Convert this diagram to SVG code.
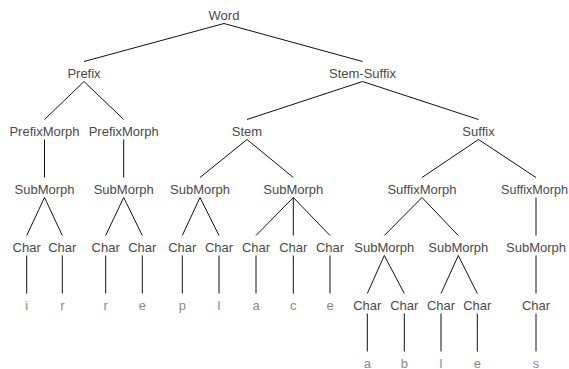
<svg xmlns="http://www.w3.org/2000/svg" width="569" height="369" viewBox="0 0 569 369">
  <style>
    text { font-family: "Liberation Sans", Arial, sans-serif; font-size: 13px; text-anchor: middle; fill: #4a4a4a; }
    text.leaf { fill: #8a8a8a; }
    #edges line { stroke: #111; stroke-width: 1; }
  </style>
  <rect width="569" height="369" fill="#fff"/>
  <g id="edges">
    <!-- Word -->
    <line x1="224" y1="23.5" x2="84" y2="61.5"/>
    <line x1="224" y1="23.5" x2="362.5" y2="61.5"/>
    <!-- Prefix -->
    <line x1="84" y1="81.5" x2="44.5" y2="119.5"/>
    <line x1="84" y1="81.5" x2="123.7" y2="119.5"/>
    <!-- Stem-Suffix -->
    <line x1="362.5" y1="81.5" x2="247" y2="119.5"/>
    <line x1="362.5" y1="81.5" x2="478.5" y2="119.5"/>
    <!-- PrefixMorphs -->
    <line x1="44.5" y1="139.5" x2="44.5" y2="177.5"/>
    <line x1="123.7" y1="139.5" x2="123.7" y2="177.5"/>
    <!-- Stem -->
    <line x1="247" y1="139.5" x2="200" y2="177.5"/>
    <line x1="247" y1="139.5" x2="293.3" y2="177.5"/>
    <!-- Suffix -->
    <line x1="478.5" y1="139.5" x2="422" y2="177.5"/>
    <line x1="478.5" y1="139.5" x2="536" y2="177.5"/>
    <!-- SubMorphs (level 3) -->
    <line x1="44.5" y1="197.5" x2="26.7" y2="235.5"/>
    <line x1="44.5" y1="197.5" x2="62.3" y2="235.5"/>
    <line x1="123.7" y1="197.5" x2="105.7" y2="235.5"/>
    <line x1="123.7" y1="197.5" x2="142.3" y2="235.5"/>
    <line x1="200" y1="197.5" x2="182.3" y2="235.5"/>
    <line x1="200" y1="197.5" x2="219" y2="235.5"/>
    <line x1="293.3" y1="197.5" x2="256" y2="235.5"/>
    <line x1="293.3" y1="197.5" x2="293.3" y2="235.5"/>
    <line x1="293.3" y1="197.5" x2="330" y2="235.5"/>
    <!-- SuffixMorphs -->
    <line x1="422" y1="197.5" x2="384.3" y2="235.5"/>
    <line x1="422" y1="197.5" x2="458.3" y2="235.5"/>
    <line x1="536" y1="197.5" x2="536" y2="235.5"/>
    <!-- Chars to letters (level 4 to 5) -->
    <line x1="26.7" y1="255.5" x2="26.7" y2="293.5"/>
    <line x1="62.3" y1="255.5" x2="62.3" y2="293.5"/>
    <line x1="105.7" y1="255.5" x2="105.7" y2="293.5"/>
    <line x1="142.3" y1="255.5" x2="142.3" y2="293.5"/>
    <line x1="182.3" y1="255.5" x2="182.3" y2="293.5"/>
    <line x1="219" y1="255.5" x2="219" y2="293.5"/>
    <line x1="256" y1="255.5" x2="256" y2="293.5"/>
    <line x1="293.3" y1="255.5" x2="293.3" y2="293.5"/>
    <line x1="330" y1="255.5" x2="330" y2="293.5"/>
    <!-- SubMorphs (level 4) -->
    <line x1="384.3" y1="255.5" x2="367.3" y2="293.5"/>
    <line x1="384.3" y1="255.5" x2="404.3" y2="293.5"/>
    <line x1="458.3" y1="255.5" x2="441" y2="293.5"/>
    <line x1="458.3" y1="255.5" x2="477.3" y2="293.5"/>
    <line x1="536" y1="255.5" x2="536" y2="293.5"/>
    <!-- Chars to letters (level 5 to 6) -->
    <line x1="367.3" y1="313.5" x2="367.3" y2="351.5"/>
    <line x1="404.3" y1="313.5" x2="404.3" y2="351.5"/>
    <line x1="441" y1="313.5" x2="441" y2="351.5"/>
    <line x1="477.3" y1="313.5" x2="477.3" y2="351.5"/>
    <line x1="536" y1="313.5" x2="536" y2="351.5"/>
  </g>

  <g id="word"><text x="224" y="19.5">Word</text></g>
  <g id="prefix"><text x="84" y="77.5">Prefix</text></g>
  <g id="stem-suffix"><text x="362.5" y="77.5">Stem-Suffix</text></g>

  <g id="prefixmorph-1"><text x="44.5" y="135.5">PrefixMorph</text></g>
  <g id="prefixmorph-2"><text x="123.7" y="135.5">PrefixMorph</text></g>
  <g id="stem"><text x="247" y="135.5">Stem</text></g>
  <g id="suffix"><text x="478.5" y="135.5">Suffix</text></g>

  <g id="submorph-1"><text x="44.5" y="193.5">SubMorph</text></g>
  <g id="submorph-2"><text x="123.7" y="193.5">SubMorph</text></g>
  <g id="submorph-3"><text x="200" y="193.5">SubMorph</text></g>
  <g id="submorph-4"><text x="293.3" y="193.5">SubMorph</text></g>
  <g id="suffixmorph-1"><text x="422" y="193.5">SuffixMorph</text></g>
  <g id="suffixmorph-2"><text x="534.5" y="193.5" textLength="67" lengthAdjust="spacingAndGlyphs">SuffixMorph</text></g>

  <g id="char-1"><text x="26.7" y="251.5">Char</text></g>
  <g id="char-2"><text x="62.3" y="251.5">Char</text></g>
  <g id="char-3"><text x="105.7" y="251.5">Char</text></g>
  <g id="char-4"><text x="142.3" y="251.5">Char</text></g>
  <g id="char-5"><text x="182.3" y="251.5">Char</text></g>
  <g id="char-6"><text x="219" y="251.5">Char</text></g>
  <g id="char-7"><text x="256" y="251.5">Char</text></g>
  <g id="char-8"><text x="293.3" y="251.5">Char</text></g>
  <g id="char-9"><text x="330" y="251.5">Char</text></g>
  <g id="submorph-5"><text x="384.3" y="251.5">SubMorph</text></g>
  <g id="submorph-6"><text x="458.3" y="251.5">SubMorph</text></g>
  <g id="submorph-7"><text x="536" y="251.5">SubMorph</text></g>

  <g id="leaf-i"><text class="leaf" x="26.7" y="309.5">i</text></g>
  <g id="leaf-r1"><text class="leaf" x="62.3" y="309.5">r</text></g>
  <g id="leaf-r2"><text class="leaf" x="105.7" y="309.5">r</text></g>
  <g id="leaf-e1"><text class="leaf" x="142.3" y="309.5">e</text></g>
  <g id="leaf-p"><text class="leaf" x="182.3" y="309.5">p</text></g>
  <g id="leaf-l1"><text class="leaf" x="219" y="309.5">l</text></g>
  <g id="leaf-a1"><text class="leaf" x="256" y="309.5">a</text></g>
  <g id="leaf-c"><text class="leaf" x="293.3" y="309.5">c</text></g>
  <g id="leaf-e2"><text class="leaf" x="330" y="309.5">e</text></g>
  <g id="char-10"><text x="367.3" y="309.5">Char</text></g>
  <g id="char-11"><text x="404.3" y="309.5">Char</text></g>
  <g id="char-12"><text x="441" y="309.5">Char</text></g>
  <g id="char-13"><text x="477.3" y="309.5">Char</text></g>
  <g id="char-14"><text x="536" y="309.5">Char</text></g>

  <g id="leaf-a2"><text class="leaf" x="367.3" y="367.5">a</text></g>
  <g id="leaf-b"><text class="leaf" x="404.3" y="367.5">b</text></g>
  <g id="leaf-l2"><text class="leaf" x="441" y="367.5">l</text></g>
  <g id="leaf-e3"><text class="leaf" x="477.3" y="367.5">e</text></g>
  <g id="leaf-s"><text class="leaf" x="536" y="367.5">s</text></g>
</svg>
